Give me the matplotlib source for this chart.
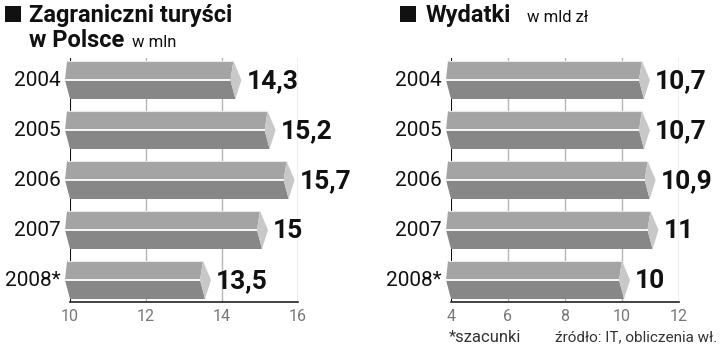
import matplotlib
matplotlib.use("Agg")
import matplotlib.pyplot as plt
from matplotlib.patches import Polygon, Rectangle

plt.rcParams['font.family'] = ['Roboto', 'DejaVu Sans']

years = ["2004", "2005", "2006", "2007", "2008*"]
tourists = [14.3, 15.2, 15.7, 15.0, 13.5]
tourist_labels = ["14,3", "15,2", "15,7", "15", "13,5"]
spending = [10.7, 10.7, 10.9, 11.0, 10.0]
spending_labels = ["10,7", "10,7", "10,9", "11", "10"]
left_ticks = [10, 12, 14, 16]
right_ticks = [4, 6, 8, 10, 12]

W, H = 720, 346
fig = plt.figure(figsize=(W / 100, H / 100), dpi=100)

TOP_C = "#a4a4a4"
BOT_C = "#878787"
CAP_C = "#c8c8c8"


def panel(left_px, xlim, values, labels, ticks):
    ax_w = 228
    top_px, bot_px = 58, 302
    ax = fig.add_axes([left_px / W, 1 - bot_px / H, ax_w / W, (bot_px - top_px) / H])
    x0, x1 = xlim
    ax.set_xlim(x0, x1)
    ax.set_ylim(4.44, -0.44)
    ppu = ax_w / (x1 - x0)
    p = 1.0 / ppu          # one pixel in x data units
    py = 1.0 / 50.0        # one pixel in y data units
    for s in ['top', 'right', 'left']:
        ax.spines[s].set_visible(False)
    ax.spines['bottom'].set_color('#222222')
    ax.spines['bottom'].set_linewidth(1.2)
    ax.set_yticks([])
    ax.set_xticks(ticks)
    ax.tick_params(axis='x', length=0, pad=5, labelsize=11.5, labelcolor='#777777')
    for t in ticks[1:]:
        ax.axvline(t, color='#b5b5b5', lw=1.0, zorder=0)
    ax.axvline(x0, color='#111111', lw=1.5, zorder=0)
    hh = 19 * py
    for i, (v, lab) in enumerate(zip(values, labels)):
        yc = i
        top, bot = yc - hh, yc + hh
        topface = Polygon([(x0 - 3 * p, top), (v, top), (v - 3 * p, yc), (x0 - 5 * p, yc)],
                          closed=True, fc=TOP_C, ec='none', zorder=2, clip_on=False)
        botface = Polygon([(x0 - 5 * p, yc), (v - 3 * p, yc), (v + 2 * p, bot), (x0, bot)],
                          closed=True, fc=BOT_C, ec='none', zorder=2, clip_on=False)
        cap = Polygon([(v, top), (v + 8 * p, yc), (v + 2 * p, bot), (v - 3 * p, yc)],
                      closed=True, fc=CAP_C, ec='none', zorder=3, clip_on=False)
        ax.add_patch(topface)
        ax.add_patch(botface)
        ax.add_patch(cap)
        ax.plot([x0 - 5 * p, v - 3 * p], [yc, yc], color='white', lw=1.3, zorder=4,
                clip_on=False, solid_capstyle='butt')
        ax.plot([x0 - 3 * p, v], [top, top], color='#e8e8e8', lw=0.8, zorder=4,
                clip_on=False, solid_capstyle='butt')
        ax.text(v + 13 * p, yc + 1 * py, lab, ha='left', va='center', fontsize=19,
                fontweight='bold', color='#111111', clip_on=False)
        ax.text(x0 - 9 * p, yc + 1 * py, years[i], ha='right', va='center', fontsize=15,
                color='#111111', clip_on=False)
    return ax


panel(70, (10, 16), tourists, tourist_labels, left_ticks)
panel(451, (4, 12), spending, spending_labels, right_ticks)

# titles
fig.patches.append(Rectangle((5 / W, 1 - 22 / H), 16 / W, 16 / H, transform=fig.transFigure,
                             fc='#111111', ec='none'))
fig.text(29 / W, 1 - 22 / H, "Zagraniczni turyści", fontsize=17, fontweight='bold',
         color='#111111', ha='left', va='baseline')
fig.text(29 / W, 1 - 47 / H, "w Polsce", fontsize=17, fontweight='bold',
         color='#111111', ha='left', va='baseline')
fig.text(132 / W, 1 - 47 / H, "w mln", fontsize=12, color='#111111', ha='left', va='baseline')

fig.patches.append(Rectangle((400 / W, 1 - 22 / H), 16 / W, 16 / H, transform=fig.transFigure,
                             fc='#111111', ec='none'))
fig.text(426 / W, 1 - 22 / H, "Wydatki", fontsize=17, fontweight='bold',
         color='#111111', ha='left', va='baseline')
fig.text(527 / W, 1 - 22 / H, "w mld zł", fontsize=12, color='#111111', ha='left', va='baseline')

# footer
fig.text(449 / W, 1 - 337 / H, "*szacunki", fontsize=12, color='#333333', ha='left', va='center')
fig.text(717 / W, 1 - 337 / H, "źródło: IT, obliczenia wł.", fontsize=11, color='#333333',
         ha='right', va='center')

fig.savefig("out.png", dpi=100, facecolor='white')
